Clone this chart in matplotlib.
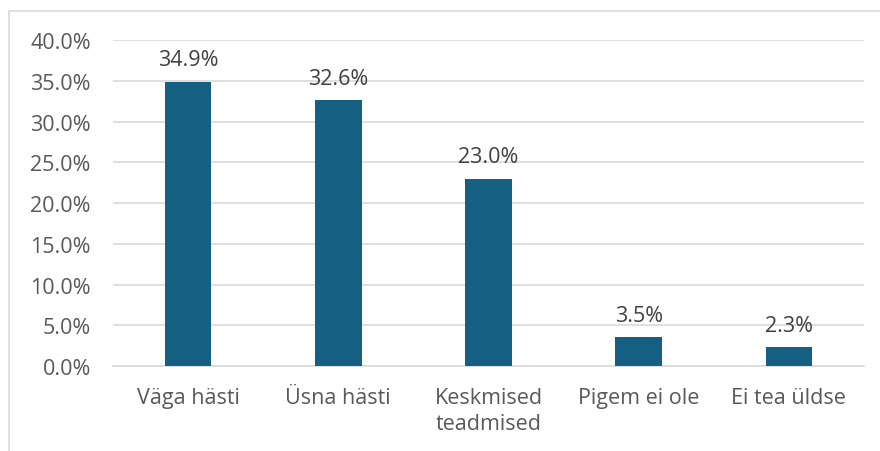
import matplotlib.pyplot as plt
from matplotlib.patches import Rectangle

categories = ["Väga hästi", "Üsna hästi", "Keskmised\nteadmised", "Pigem ei ole", "Ei tea üldse"]
values = [34.9, 32.6, 23.0, 3.5, 2.3]

plt.rcParams['font.family'] = ['Open Sans', 'DejaVu Sans']
text_color = '#595959'

fig = plt.figure(figsize=(8.8, 4.52), dpi=100)
ax = fig.add_axes([0.1284, 0.188, 0.8534, 0.7213])

# chart border (cut off on the right and bottom like the reference)
fig.patches.append(Rectangle((9 / 880, -0.1), 1.2, 1.1 - 12 / 452, transform=fig.transFigure,
                             fill=False, edgecolor='#d9d9d9', linewidth=1.2, clip_on=False))

x = range(len(categories))
bars = ax.bar(x, values, width=0.31, color='#156082', zorder=3)
for b, v in zip(bars, values):
    ax.text(b.get_x() + b.get_width() / 2, v + 1.4, f"{v:.1f}%", ha='center', va='bottom',
            fontsize=15.5, color='#404040')

ax.set_xlim(-0.5, len(categories) - 0.5)
ax.set_ylim(0, 40)
ax.set_yticks(range(0, 41, 5))
ax.set_yticklabels([f"{t:.1f}%" for t in range(0, 41, 5)])
ax.set_xticks(list(x))
ax.set_xticklabels(categories, linespacing=1.34)
ax.grid(axis='y', color='#d9d9d9', linewidth=1.2, zorder=0)
for s in ['top', 'right', 'left']:
    ax.spines[s].set_visible(False)
ax.spines['bottom'].set_color('#d9d9d9')
ax.spines['bottom'].set_linewidth(1.2)
ax.tick_params(axis='both', length=0, labelsize=15.5, colors=text_color)
ax.tick_params(axis='y', pad=16)
ax.tick_params(axis='x', pad=15)

fig.savefig('out.png', dpi=100)
